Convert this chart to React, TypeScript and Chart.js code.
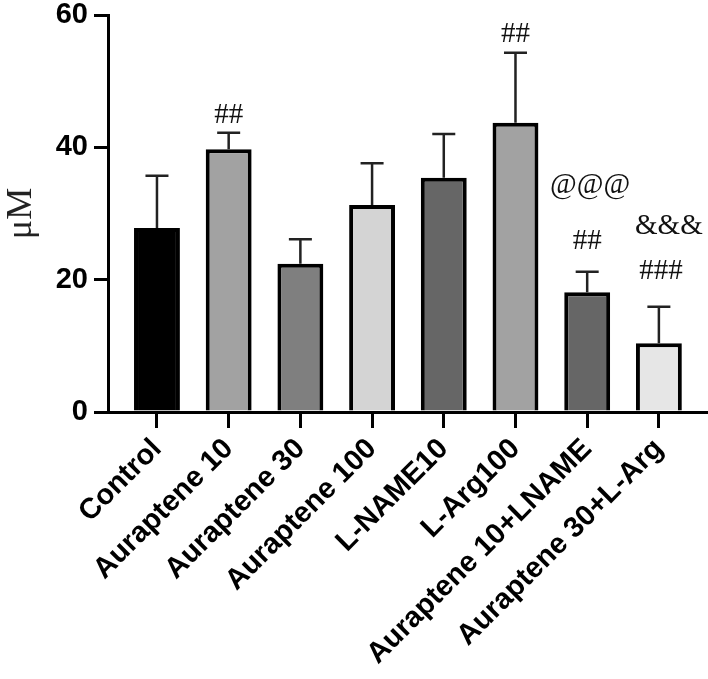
import React, { useEffect, useRef } from "react";
import { Chart, registerables } from "chart.js";

Chart.register(...registerables);

const categories = [
  "Control",
  "Auraptene 10",
  "Auraptene 30",
  "Auraptene 100",
  "L-NAME10",
  "L-Arg100",
  "Auraptene 10+LNAME",
  "Auraptene 30+L-Arg",
];
const means = [27.8, 39.7, 22.4, 31.3, 35.4, 43.7, 18.1, 10.4];
const errors = [7.9, 2.5, 3.7, 6.3, 6.6, 10.6, 3.1, 5.5];
const barColors = [
  "#000000",
  "#a2a2a2",
  "#7f7f7f",
  "#d4d4d4",
  "#666666",
  "#a2a2a2",
  "#666666",
  "#e6e6e6",
];
const yTicks = [0, 20, 40, 60];

// significance marks: category index, text, vertical position (in µM units)
const annIndex = [1, 5, 6, 6, 7, 7];
const annText = ["##", "##", "##", "@@@", "###", "&&&"];
const annY = [44.9, 57.1, 25.8, 34.3, 21.2, 28.0];
const annDx = [0, 0, 0, 3, 2, 10];

const SANS = "'Liberation Sans', Arial, sans-serif";
const SERIF = "'Liberation Serif', 'Times New Roman', serif";

const errorBarPlugin = {
  id: "errorBars",
  beforeDatasetsDraw(chart: any) {
    const { ctx, scales } = chart;
    const xs = scales.x;
    const ys = scales.y;
    ctx.save();
    ctx.strokeStyle = "#222";
    ctx.lineWidth = 2.5;
    means.forEach((m, i) => {
      const x = xs.getPixelForValue(i);
      const y0 = ys.getPixelForValue(m);
      const y1 = ys.getPixelForValue(m + errors[i]);
      ctx.beginPath();
      ctx.moveTo(x, y0);
      ctx.lineTo(x, y1);
      ctx.moveTo(x - 11.5, y1);
      ctx.lineTo(x + 11.5, y1);
      ctx.stroke();
    });
    ctx.restore();
  },
  afterDatasetsDraw(chart: any) {
    const { ctx, scales } = chart;
    const xs = scales.x;
    const ys = scales.y;
    ctx.save();
    ctx.fillStyle = "#111";
    ctx.font = `29px ${SERIF}`;
    ctx.textAlign = "center";
    ctx.textBaseline = "middle";
    annText.forEach((t, k) => {
      const x = xs.getPixelForValue(annIndex[k]) + annDx[k];
      const y = ys.getPixelForValue(annY[k]);
      ctx.fillText(t, x, y);
    });
    ctx.restore();
  },
};

export default function App() {
  const ref = useRef<HTMLCanvasElement | null>(null);
  useEffect(() => {
    if (!ref.current) return;
    const chart = new Chart(ref.current, {
      type: "bar",
      data: {
        datasets: [
          {
            data: means.map((m, i) => ({ x: i, y: m })),
            backgroundColor: barColors,
            borderColor: "#000",
            borderWidth: 4,
            barPercentage: 0.64,
            categoryPercentage: 1,
          } as any,
        ],
      },
      options: {
        responsive: false,
        animation: false,
        layout: { padding: { top: 15, left: 0, right: 0, bottom: 0 } },
        plugins: {
          legend: { display: false },
          tooltip: { enabled: false },
        },
        scales: {
          x: {
            type: "linear",
            min: -0.683,
            max: 7.685,
            offset: false,
            afterBuildTicks: (s: any) => {
              s.ticks = categories.map((_, i) => ({ value: i }));
            },
            afterFit: (s: any) => {
              s.height = 267;
              s.paddingLeft = 0;
              s.paddingRight = 0;
              s.paddingTop = 0;
              s.paddingBottom = 0;
            },
            ticks: {
              autoSkip: false,
              minRotation: 45,
              maxRotation: 45,
              padding: 4,
              color: "#000",
              font: { family: SANS, size: 29, weight: "bold" },
              callback: (v: any) => categories[v] ?? "",
            },
            grid: {
              display: true,
              drawOnChartArea: false,
              drawTicks: true,
              tickLength: 16,
              color: "#000",
              lineWidth: 3,
              offset: false,
            },
            border: { display: true, color: "#000", width: 3 },
          } as any,
          y: {
            min: 0,
            max: 60,
            afterBuildTicks: (s: any) => {
              s.ticks = yTicks.map((v) => ({ value: v }));
            },
            afterFit: (s: any) => {
              s.width = 108;
              s.paddingTop = 0;
              s.paddingBottom = 0;
              s.paddingLeft = 0;
              s.paddingRight = 0;
            },
            ticks: {
              color: "#000",
              padding: 6,
              font: { family: SANS, size: 29, weight: "bold" },
            },
            grid: {
              drawOnChartArea: false,
              drawTicks: true,
              tickLength: 14,
              color: "#000",
              lineWidth: 3,
            },
            border: { display: true, color: "#000", width: 3 },
            title: {
              display: true,
              text: "μM",
              color: "#222",
              padding: 0,
              font: { family: SERIF, size: 36, weight: "normal" },
            },
          } as any,
        },
      },
      plugins: [errorBarPlugin],
    });
    return () => chart.destroy();
  }, []);
  return (
    <div style={{ position: "absolute", left: 0, top: 0, width: 708, height: 679, background: "#fff" }}>
      <canvas ref={ref} width={708} height={679} />
    </div>
  );
}
